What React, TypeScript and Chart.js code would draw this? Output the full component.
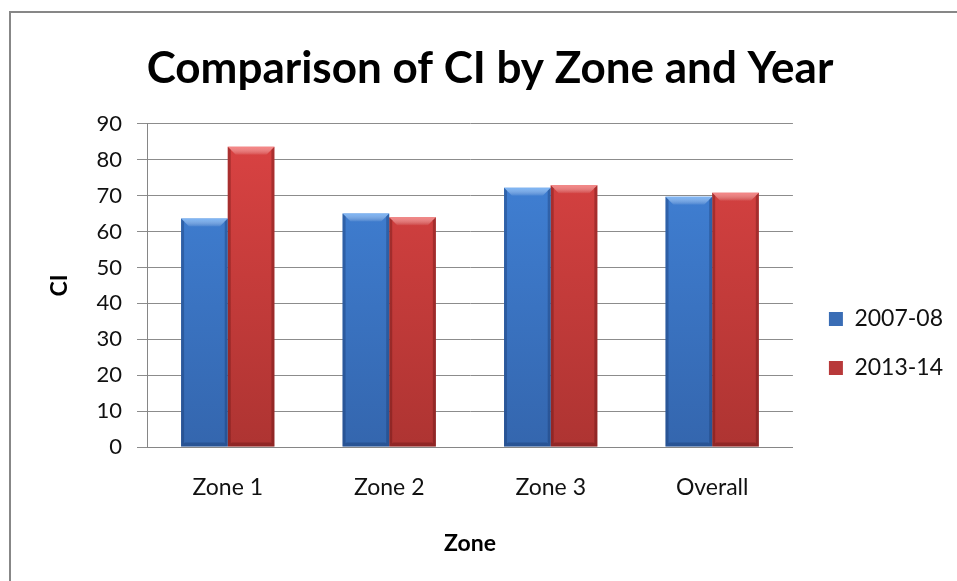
import React, { useEffect, useRef } from "react";
import { Chart, registerables } from "chart.js";

Chart.register(...registerables);

const categories = ["Zone 1", "Zone 2", "Zone 3", "Overall"];
const seriesNames = ["2007-08", "2013-14"];
const values2007 = [63.6, 65.0, 72.2, 69.7];
const values2013 = [83.6, 64.0, 72.9, 70.8];
const yTicks = [0, 10, 20, 30, 40, 50, 60, 70, 80, 90];

const FONT = "Lato, 'Open Sans', sans-serif";

const palettes = [
  { top: "#4284DA", bottom: "#3466AE", light: "rgba(140,195,255,0.8)", dark: "rgba(20,50,100,0.35)", legend: "#3A6DB5" },
  { top: "#DB4343", bottom: "#AE3432", light: "rgba(255,150,150,0.8)", dark: "rgba(90,15,15,0.35)", legend: "#B8393A" },
];

function fillFor(i: number) {
  return (ctx: any) => {
    const chart = ctx.chart;
    const area = chart.chartArea;
    if (!area) return palettes[i].top;
    const g = chart.ctx.createLinearGradient(0, area.top, 0, area.bottom);
    g.addColorStop(0, palettes[i].top);
    g.addColorStop(1, palettes[i].bottom);
    return g;
  };
}

const bevelPlugin = {
  id: "bevel",
  afterDatasetsDraw(chart: any) {
    const ctx = chart.ctx;
    chart.data.datasets.forEach((_: any, di: number) => {
      const meta = chart.getDatasetMeta(di);
      meta.data.forEach((bar: any) => {
        const { x, y, base, width } = bar.getProps(["x", "y", "base", "width"], true);
        const l = x - width / 2;
        const r = x + width / 2;
        const b = 8;
        ctx.save();
        const g = ctx.createLinearGradient(0, y, 0, y + b);
        g.addColorStop(0, palettes[di].light);
        g.addColorStop(1, "rgba(255,255,255,0.05)");
        ctx.fillStyle = g;
        ctx.beginPath();
        ctx.moveTo(l, y);
        ctx.lineTo(r, y);
        ctx.lineTo(r - b, y + b);
        ctx.lineTo(l + b, y + b);
        ctx.closePath();
        ctx.fill();
        ctx.fillStyle = palettes[di].dark;
        ctx.beginPath();
        ctx.moveTo(l, y);
        ctx.lineTo(l + 3, y + 3);
        ctx.lineTo(l + 3, base - 3);
        ctx.lineTo(l, base);
        ctx.closePath();
        ctx.fill();
        ctx.beginPath();
        ctx.moveTo(r, y);
        ctx.lineTo(r - 3, y + 3);
        ctx.lineTo(r - 3, base - 3);
        ctx.lineTo(r, base);
        ctx.closePath();
        ctx.fill();
        ctx.beginPath();
        ctx.moveTo(l, base);
        ctx.lineTo(l + 4, base - 4);
        ctx.lineTo(r - 4, base - 4);
        ctx.lineTo(r, base);
        ctx.closePath();
        ctx.fill();
        ctx.restore();
      });
    });
  },
};

const legendShift = {
  id: "legendShift",
  afterLayout(chart: any) {
    if (chart.legend) {
      chart.legend.left += 10;
      chart.legend.right += 10;
    }
  },
};

export default function App() {
  const ref = useRef<HTMLCanvasElement | null>(null);

  useEffect(() => {
    if (!ref.current) return;
    const chart = new Chart(ref.current, {
      type: "bar",
      data: {
        labels: categories,
        datasets: [
          { label: seriesNames[0], data: values2007, backgroundColor: fillFor(0) as any, borderWidth: 0 },
          { label: seriesNames[1], data: values2013, backgroundColor: fillFor(1) as any, borderWidth: 0 },
        ],
      },
      options: {
        responsive: false,
        animation: false,
        devicePixelRatio: 1,
        layout: { padding: { left: 37, right: 14, top: 22, bottom: 0 } },
        datasets: { bar: { categoryPercentage: 0.578, barPercentage: 1 } },
        plugins: {
          title: {
            display: true,
            text: "Comparison of CI by Zone and Year",
            color: "#000",
            font: { family: FONT, size: 44, weight: "bold", lineHeight: 1.2 },
            padding: { top: 20, bottom: 29 },
          },
          legend: {
            position: "right",
            title: {
              display: true,
              text: " ",
              font: { family: FONT, size: 10, lineHeight: 1.2 },
              padding: { top: 72, bottom: 0 },
            },
            labels: {
              color: "#111",
              font: { family: FONT, size: 23 },
              boxWidth: 14,
              boxHeight: 14,
              padding: 26,
              generateLabels: (chart: any) =>
                chart.data.datasets.map((d: any, i: number) => ({
                  text: d.label,
                  fillStyle: palettes[i].legend,
                  strokeStyle: palettes[i].legend,
                  lineWidth: 0,
                  datasetIndex: i,
                  fontColor: "#111",
                })),
            },
          },
          tooltip: { enabled: false },
        },
        scales: {
          x: {
            grid: { display: false, drawTicks: false },
            border: { display: true, color: "#868686", width: 1 },
            ticks: { color: "#111", font: { family: FONT, size: 23 }, padding: 27 },
            title: {
              display: true,
              text: "Zone",
              color: "#000",
              font: { family: FONT, size: 23, weight: "bold", lineHeight: 1.2 },
              padding: { top: 0, bottom: 24 },
            },
            afterFit: (s: any) => { s.height = 134; },
          },
          y: {
            min: 0,
            max: 90,
            afterBuildTicks: (s: any) => { s.ticks = yTicks.map((v) => ({ value: v })); },
            grid: { color: "#8C8C8C", lineWidth: 1, tickLength: 10 },
            border: { display: true, color: "#868686", width: 1 },
            ticks: { color: "#111", font: { family: FONT, size: 22 }, padding: 15 },
            title: {
              display: true,
              text: "CI",
              color: "#000",
              font: { family: FONT, size: 23, weight: "bold", lineHeight: 1.2 },
              padding: { top: 9, bottom: 0 },
            },
            afterFit: (s: any) => { s.width = 110; },
          },
        },
      },
      plugins: [bevelPlugin, legendShift],
    });
    return () => chart.destroy();
  }, []);

  return (
    <div style={{ position: "fixed", left: 0, top: 0, width: 957, height: 581, overflow: "hidden", background: "#fff" }}>
      <div
        style={{
          position: "absolute",
          left: 9,
          top: 11,
          width: 1000,
          height: 1000,
          border: "2px solid #878787",
          boxSizing: "border-box",
        }}
      />
      <canvas ref={ref} width={957} height={581} style={{ position: "absolute", left: 0, top: 0, width: 957, height: 581 }} />
    </div>
  );
}
